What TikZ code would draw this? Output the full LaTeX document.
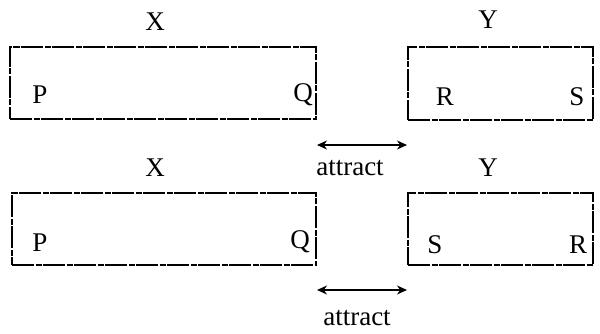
\documentclass[tikz,border=0pt]{standalone}
\usepackage{fontspec}
\setmainfont{Liberation Serif}
\usetikzlibrary{arrows.meta}
\begin{document}
\begin{tikzpicture}[x=1pt,y=-1pt,
  magnet/.style={draw, line width=1.2pt, dash pattern=on 22pt off 1.5pt on 6pt off 1.5pt, inner sep=0pt},
  lbl/.style={font=\fontsize{27}{30}\selectfont, inner sep=0pt},
  attr/.style={<->, line width=1.1pt, >={Stealth[length=10pt,width=9pt]}}]
\useasboundingbox (0,0) rectangle (600,334);
% top row
\node[magnet, minimum width=306pt, minimum height=72pt] (bx1) at (163,83) {};
\node[magnet, minimum width=185pt, minimum height=73pt] (by1) at (500.5,83.5) {};
\node[lbl] (x1) at (155,22) {X};
\node[lbl] (y1) at (488,20) {Y};
\node[lbl] (p1) at (40,95) {P};
\node[lbl, anchor=east] (q1) at (313,95) {Q};
\node[lbl] (r1) at (445,97) {R};
\node[lbl] (s1) at (577,97) {S};
\coordinate (a1l) at (317,145);
\coordinate (a1r) at (407,145);
\draw[attr] (a1l) -- (a1r);
\node[lbl] (t1) at (350,168) {attract};
% bottom row
\node[magnet, minimum width=304pt, minimum height=72pt] (bx2) at (164,229) {};
\node[magnet, minimum width=185pt, minimum height=72pt] (by2) at (500.5,229) {};
\node[lbl] (x2) at (155,168) {X};
\node[lbl] (y2) at (488,168) {Y};
\node[lbl] (p2) at (40,243) {P};
\node[lbl, anchor=east] (q2) at (310,242) {Q};
\node[lbl] (s2) at (435,245) {S};
\node[lbl] (r2) at (578,245) {R};
\coordinate (a2l) at (317,290);
\coordinate (a2r) at (407,290);
\draw[attr] (a2l) -- (a2r);
\node[lbl] (t2) at (357,318) {attract};
\end{tikzpicture}
\end{document}
